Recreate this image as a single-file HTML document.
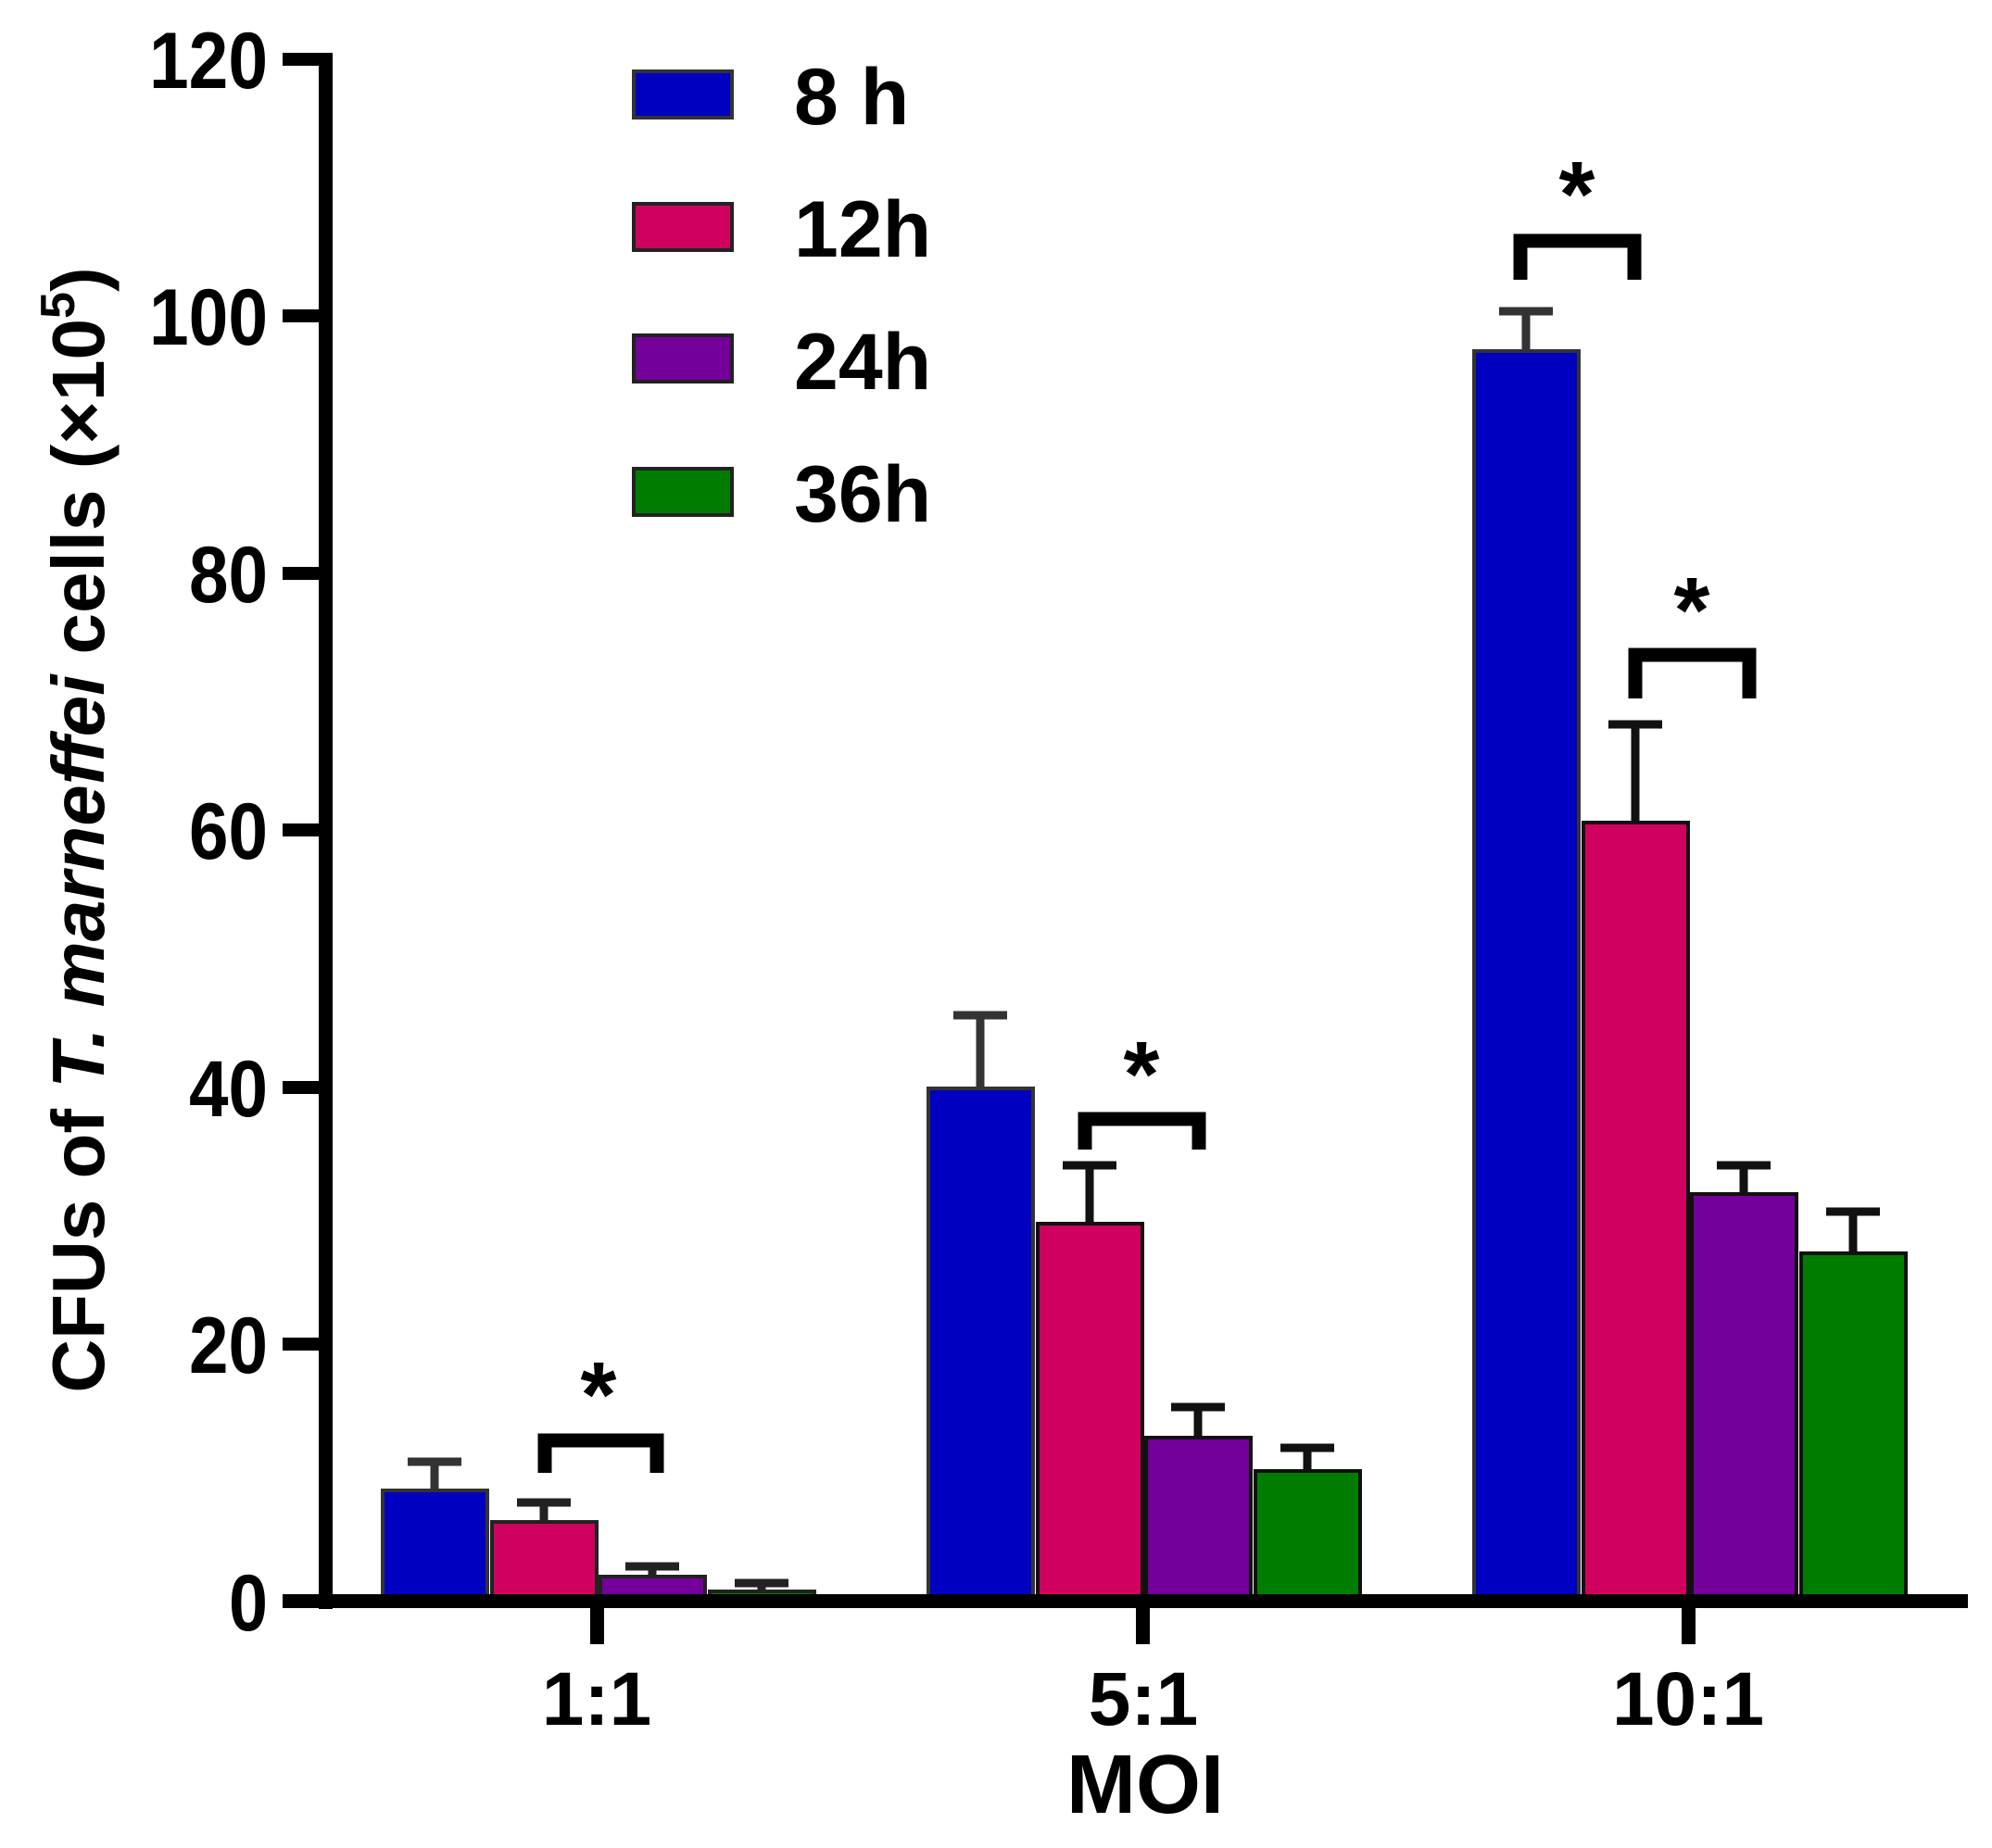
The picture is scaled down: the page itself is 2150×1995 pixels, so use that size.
<!DOCTYPE html>
<html><head><meta charset="utf-8"><style>
html,body{margin:0;padding:0;background:#fff;}
svg text{font-family:"Liberation Sans",Arial,sans-serif;font-weight:bold;fill:#000;}
</style></head><body>
<svg width="2150" height="1990" viewBox="0 0 2150 1990" xmlns="http://www.w3.org/2000/svg">
<rect width="2150" height="1990" fill="#fff"/>
<g stroke-width="4">
<rect x="413" y="1609" width="113" height="121" fill="#0000c0" stroke="#333"/>
<rect x="531" y="1643" width="113" height="87" fill="#d0005e" stroke="#222"/>
<rect x="648" y="1702" width="113" height="28" fill="#740099" stroke="#222"/>
<rect x="766" y="1718" width="113" height="12" fill="#007d00" stroke="#222"/>
<rect x="1002" y="1175" width="113" height="555" fill="#0000c0" stroke="#333"/>
<rect x="1120" y="1321" width="113" height="409" fill="#d0005e" stroke="#111"/>
<rect x="1237" y="1552" width="113" height="178" fill="#740099" stroke="#111"/>
<rect x="1355" y="1588" width="113" height="142" fill="#007d00" stroke="#111"/>
<rect x="1591" y="379" width="113" height="1351" fill="#0000c0" stroke="#333"/>
<rect x="1709" y="888" width="113" height="842" fill="#d0005e" stroke="#111"/>
<rect x="1826" y="1289" width="113" height="441" fill="#740099" stroke="#111"/>
<rect x="1944" y="1353" width="113" height="377" fill="#007d00" stroke="#111"/>
</g>
<g stroke-width="9" fill="none">
<path d="M469 1609V1578M440 1578H498" stroke="#333"/>
<path d="M587 1643V1622M558 1622H616" stroke="#222"/>
<path d="M704 1702V1691M675 1691H733" stroke="#222"/>
<path d="M822 1718V1709M793 1709H851" stroke="#222"/>
<path d="M1058 1175V1096M1029 1096H1087" stroke="#333"/>
<path d="M1176 1321V1258M1147 1258H1205" stroke="#111"/>
<path d="M1293 1552V1519M1264 1519H1322" stroke="#111"/>
<path d="M1411 1588V1563M1382 1563H1440" stroke="#111"/>
<path d="M1647 379V336M1618 336H1676" stroke="#333"/>
<path d="M1765 888V782M1736 782H1794" stroke="#111"/>
<path d="M1882 1289V1258M1853 1258H1911" stroke="#111"/>
<path d="M2000 1353V1308M1971 1308H2029" stroke="#111"/>
</g>
<g stroke="#000" stroke-width="15" fill="none" stroke-linecap="butt">
<path d="M588 1590V1555H709V1590"/>
<path d="M1171 1241V1208H1294V1241"/>
<path d="M1641 302V260H1764V302"/>
<path d="M1765 754V707H1888V754"/>
</g>
<g font-size="100" text-anchor="middle">
<text x="646" y="1540">*</text>
<text x="1232" y="1194">*</text>
<text x="1702" y="244">*</text>
<text x="1826" y="693">*</text>
</g>
<g fill="#000">
<rect x="344" y="57" width="15" height="1680"/>
<rect x="305" y="1721" width="1819" height="15"/>
<rect x="305" y="57" width="46" height="14"/>
<rect x="305" y="334" width="46" height="14"/>
<rect x="305" y="612" width="46" height="14"/>
<rect x="305" y="889" width="46" height="14"/>
<rect x="305" y="1167" width="46" height="14"/>
<rect x="305" y="1444" width="46" height="14"/>
<rect x="637" y="1730" width="15" height="45"/>
<rect x="1226" y="1730" width="15" height="45"/>
<rect x="1815" y="1730" width="15" height="45"/>
</g>
<g font-size="86" text-anchor="end">
<text x="289" y="95" textLength="128" lengthAdjust="spacingAndGlyphs">120</text>
<text x="289" y="372" textLength="128" lengthAdjust="spacingAndGlyphs">100</text>
<text x="289" y="650" textLength="85" lengthAdjust="spacingAndGlyphs">80</text>
<text x="289" y="927" textLength="85" lengthAdjust="spacingAndGlyphs">60</text>
<text x="289" y="1205" textLength="85" lengthAdjust="spacingAndGlyphs">40</text>
<text x="289" y="1482" textLength="85" lengthAdjust="spacingAndGlyphs">20</text>
<text x="289" y="1760" textLength="42" lengthAdjust="spacingAndGlyphs">0</text>
</g>
<g font-size="82" text-anchor="middle">
<text x="644" y="1862">1:1</text>
<text x="1234" y="1862">5:1</text>
<text x="1822" y="1862">10:1</text>
</g>
<text x="1236" y="1957" font-size="90" text-anchor="middle">MOI</text>
<text transform="translate(112,896) rotate(-90)" font-size="80" text-anchor="middle">CFUs of <tspan font-style="italic">T. marneffei</tspan> cells (×10<tspan font-size="52" dy="-32">5</tspan><tspan dy="32">)</tspan></text>
<g stroke-width="4">
<rect x="684" y="77" width="106" height="50" fill="#0000c0" stroke="#333"/>
<rect x="684" y="220" width="106" height="50" fill="#d0005e" stroke="#222"/>
<rect x="684" y="362" width="106" height="50" fill="#740099" stroke="#222"/>
<rect x="684" y="506" width="106" height="50" fill="#007d00" stroke="#222"/>
</g>
<g font-size="86">
<text x="857" y="134">8 h</text>
<text x="857" y="277">12h</text>
<text x="857" y="420">24h</text>
<text x="857" y="563">36h</text>
</g>
</svg>
</body></html>
